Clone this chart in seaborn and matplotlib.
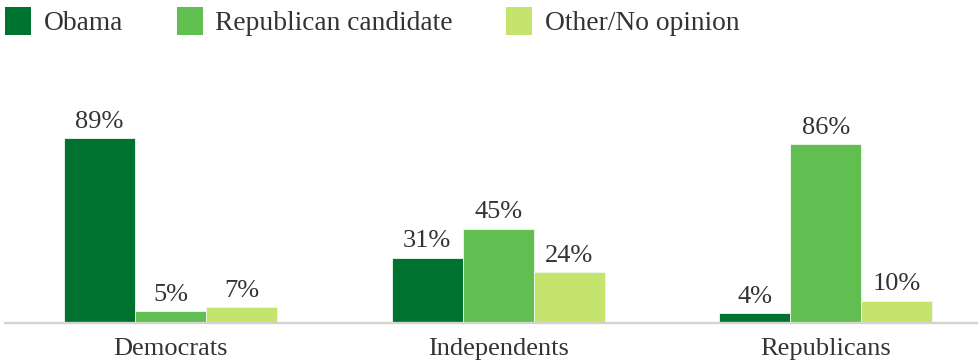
import matplotlib
matplotlib.use("Agg")
import matplotlib.pyplot as plt
from matplotlib.patches import Patch
import pandas as pd
import seaborn as sns

# Candidate preference by party identification (%)
parties = ["Democrats", "Independents", "Republicans"]
series = ["Obama", "Republican candidate", "Other/No opinion"]
obama = [89, 31, 4]
republican = [5, 45, 86]
other = [7, 24, 10]
colors = ["#00722F", "#60BF50", "#C5E46E"]

df = pd.DataFrame({
    "party": parties * 3,
    "choice": [series[0]] * 3 + [series[1]] * 3 + [series[2]] * 3,
    "pct": obama + republican + other,
})

sns.set_theme(style="white")
plt.rcParams["font.family"] = ["Liberation Serif", "DejaVu Serif"]
text_color = "#333333"
fs = 19
legend_fs = 19.8

W, H = 979, 364
fig = plt.figure(figsize=(W / 100, H / 100), dpi=100)
ax_left, ax_right = 5, 979
ax_bottom, ax_top = 321.5, 50
ax = fig.add_axes([ax_left / W, 1 - ax_bottom / H,
                   (ax_right - ax_left) / W, (ax_bottom - ax_top) / H])

sns.barplot(data=df, x="party", y="pct", hue="choice", hue_order=series,
            palette=colors, saturation=1, width=0.65, ax=ax, legend=False,
            edgecolor="#f4f8ee", linewidth=0.6)

for cont in ax.containers:
    ax.bar_label(cont, fmt="%d%%", padding=4, fontsize=fs, color=text_color)

ax.set_xlim(-0.505, 2.467)
ax.set_ylim(0, 131.9)
ax.set_xlabel("")
ax.set_ylabel("")
ax.set_yticks([])
ax.tick_params(axis="x", length=0, pad=11, labelsize=fs, labelcolor=text_color)
for side in ["top", "left", "right"]:
    ax.spines[side].set_visible(False)
ax.spines["bottom"].set_color("#D3D3CF")
ax.spines["bottom"].set_linewidth(1.7)
ax.spines["bottom"].set_position(("outward", 1.1))

handles = [Patch(facecolor=c, edgecolor="none") for c in colors]
fig.legend(handles, series, loc="center left",
           bbox_to_anchor=(5 / W, 1 - 21.5 / H), ncol=3, frameon=False,
           fontsize=legend_fs, handlelength=0.95, handleheight=1.2,
           handletextpad=0.45, columnspacing=1.95, borderpad=0,
           borderaxespad=0, labelcolor=text_color)

fig.savefig("out.png", dpi=100, facecolor="white")
